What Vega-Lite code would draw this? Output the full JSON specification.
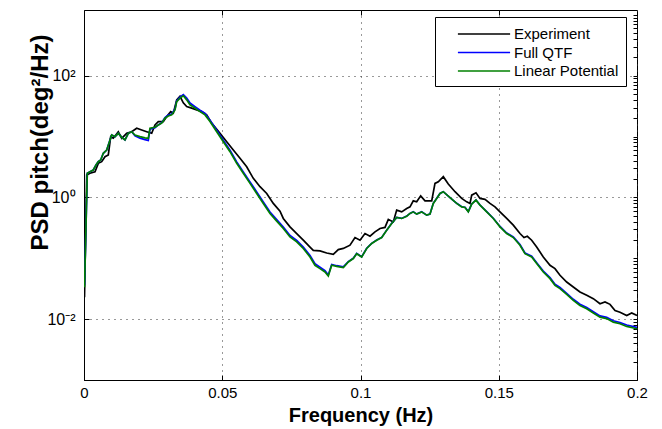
{
"$schema": "https://vega.github.io/schema/vega-lite/v6.json",
"width": 553, "height": 370,
"autosize": {"type": "none"},
"padding": {"left": 84, "top": 10, "right": 25, "bottom": 49},
"background": "white",
"config": {"view": {"stroke": "black", "strokeWidth": 1}, "font": "Liberation Sans"},
"data": {"values": [
{"s":"Experiment","f":0.00018,"v":0.0228},{"s":"Experiment","f":0.00098,"v":2.33},{"s":"Experiment","f":0.00217,"v":2.49},{"s":"Experiment","f":0.00398,"v":2.64},{"s":"Experiment","f":0.00517,"v":3.63},{"s":"Experiment","f":0.0064,"v":3.86},{"s":"Experiment","f":0.0076,"v":4.67},{"s":"Experiment","f":0.00879,"v":4.98},{"s":"Experiment","f":0.00966,"v":9.96},{"s":"Experiment","f":0.0106,"v":9.38},{"s":"Experiment","f":0.0124,"v":12.0},{"s":"Experiment","f":0.01363,"v":9.38},{"s":"Experiment","f":0.01544,"v":11.3},{"s":"Experiment","f":0.01725,"v":12.0},{"s":"Experiment","f":0.01906,"v":13.7},{"s":"Experiment","f":0.02087,"v":12.8},{"s":"Experiment","f":0.02268,"v":12.0},{"s":"Experiment","f":0.02448,"v":11.3},{"s":"Experiment","f":0.02568,"v":15.5},{"s":"Experiment","f":0.02687,"v":17.6},{"s":"Experiment","f":0.02868,"v":17.6},{"s":"Experiment","f":0.02991,"v":21.3},{"s":"Experiment","f":0.03136,"v":25.7},{"s":"Experiment","f":0.0323,"v":24.2},{"s":"Experiment","f":0.03353,"v":40.1},{"s":"Experiment","f":0.03472,"v":45.8},{"s":"Experiment","f":0.03591,"v":35.8},{"s":"Experiment","f":0.03714,"v":31.1},{"s":"Experiment","f":0.03895,"v":29.3},{"s":"Experiment","f":0.04076,"v":27.4},{"s":"Experiment","f":0.04257,"v":25.7},{"s":"Experiment","f":0.04437,"v":22.7},{"s":"Experiment","f":0.04618,"v":16.6},{"s":"Experiment","f":0.04919,"v":11.3},{"s":"Experiment","f":0.05161,"v":8.24},{"s":"Experiment","f":0.054,"v":6.01},{"s":"Experiment","f":0.05642,"v":4.39},{"s":"Experiment","f":0.05884,"v":3.19},{"s":"Experiment","f":0.06123,"v":2.06},{"s":"Experiment","f":0.06365,"v":1.5},{"s":"Experiment","f":0.06608,"v":1.16},{"s":"Experiment","f":0.06846,"v":0.797},{"s":"Experiment","f":0.07089,"v":0.595},{"s":"Experiment","f":0.07208,"v":0.451},{"s":"Experiment","f":0.0745,"v":0.328},{"s":"Experiment","f":0.07693,"v":0.255},{"s":"Experiment","f":0.07931,"v":0.198},{"s":"Experiment","f":0.08174,"v":0.153},{"s":"Experiment","f":0.08293,"v":0.135},{"s":"Experiment","f":0.08535,"v":0.132},{"s":"Experiment","f":0.08778,"v":0.122},{"s":"Experiment","f":0.09016,"v":0.116},{"s":"Experiment","f":0.09197,"v":0.139},{"s":"Experiment","f":0.09378,"v":0.145},{"s":"Experiment","f":0.0962,"v":0.164},{"s":"Experiment","f":0.09801,"v":0.219},{"s":"Experiment","f":0.09982,"v":0.198},{"s":"Experiment","f":0.10163,"v":0.255},{"s":"Experiment","f":0.10344,"v":0.23},{"s":"Experiment","f":0.10524,"v":0.271},{"s":"Experiment","f":0.10705,"v":0.309},{"s":"Experiment","f":0.10886,"v":0.321},{"s":"Experiment","f":0.11006,"v":0.434},{"s":"Experiment","f":0.11186,"v":0.396},{"s":"Experiment","f":0.11309,"v":0.618},{"s":"Experiment","f":0.1149,"v":0.579},{"s":"Experiment","f":0.11671,"v":0.659},{"s":"Experiment","f":0.1179,"v":0.7},{"s":"Experiment","f":0.11909,"v":0.879},{"s":"Experiment","f":0.12032,"v":0.846},{"s":"Experiment","f":0.12177,"v":1.06},{"s":"Experiment","f":0.12333,"v":0.879},{"s":"Experiment","f":0.12575,"v":0.879},{"s":"Experiment","f":0.12694,"v":1.7},{"s":"Experiment","f":0.12814,"v":1.81},{"s":"Experiment","f":0.12995,"v":2.19},{"s":"Experiment","f":0.13175,"v":1.66},{"s":"Experiment","f":0.13418,"v":1.24},{"s":"Experiment","f":0.1366,"v":0.963},{"s":"Experiment","f":0.13841,"v":0.846},{"s":"Experiment","f":0.1396,"v":0.797},{"s":"Experiment","f":0.14022,"v":1.09},{"s":"Experiment","f":0.14177,"v":1.19},{"s":"Experiment","f":0.14322,"v":0.963},{"s":"Experiment","f":0.14502,"v":0.927},{"s":"Experiment","f":0.14683,"v":0.797},{"s":"Experiment","f":0.14864,"v":0.7},{"s":"Experiment","f":0.15045,"v":0.579},{"s":"Experiment","f":0.15287,"v":0.451},{"s":"Experiment","f":0.15526,"v":0.35},{"s":"Experiment","f":0.15768,"v":0.255},{"s":"Experiment","f":0.15913,"v":0.219},{"s":"Experiment","f":0.16033,"v":0.23},{"s":"Experiment","f":0.16191,"v":0.198},{"s":"Experiment","f":0.16372,"v":0.153},{"s":"Experiment","f":0.16611,"v":0.105},{"s":"Experiment","f":0.16853,"v":0.0767},{"s":"Experiment","f":0.17034,"v":0.0676},{"s":"Experiment","f":0.17215,"v":0.0525},{"s":"Experiment","f":0.17457,"v":0.0407},{"s":"Experiment","f":0.17696,"v":0.0337},{"s":"Experiment","f":0.17938,"v":0.0279},{"s":"Experiment","f":0.18181,"v":0.0246},{"s":"Experiment","f":0.1842,"v":0.0217},{"s":"Experiment","f":0.18662,"v":0.0179},{"s":"Experiment","f":0.18843,"v":0.0191},{"s":"Experiment","f":0.19024,"v":0.0175},{"s":"Experiment","f":0.19205,"v":0.0139},{"s":"Experiment","f":0.19385,"v":0.013},{"s":"Experiment","f":0.19628,"v":0.0115},{"s":"Experiment","f":0.19808,"v":0.0126},{"s":"Experiment","f":0.2,"v":0.0115},
{"s":"Full QTF","f":0.00018,"v":0.036},{"s":"Full QTF","f":0.00119,"v":2.49},{"s":"Full QTF","f":0.00217,"v":2.64},{"s":"Full QTF","f":0.00336,"v":2.82},{"s":"Full QTF","f":0.00434,"v":3.41},{"s":"Full QTF","f":0.00517,"v":3.86},{"s":"Full QTF","f":0.00604,"v":4.12},{"s":"Full QTF","f":0.00698,"v":5.31},{"s":"Full QTF","f":0.00821,"v":6.01},{"s":"Full QTF","f":0.0094,"v":8.79},{"s":"Full QTF","f":0.01002,"v":10.6},{"s":"Full QTF","f":0.01121,"v":9.96},{"s":"Full QTF","f":0.0124,"v":11.3},{"s":"Full QTF","f":0.01363,"v":9.73},{"s":"Full QTF","f":0.01483,"v":8.79},{"s":"Full QTF","f":0.01602,"v":11.3},{"s":"Full QTF","f":0.01725,"v":12.0},{"s":"Full QTF","f":0.01844,"v":10.3},{"s":"Full QTF","f":0.02025,"v":9.4},{"s":"Full QTF","f":0.02206,"v":8.9},{"s":"Full QTF","f":0.02325,"v":8.6},{"s":"Full QTF","f":0.02387,"v":13.2},{"s":"Full QTF","f":0.02568,"v":14.0},{"s":"Full QTF","f":0.02687,"v":15.5},{"s":"Full QTF","f":0.0281,"v":16.9},{"s":"Full QTF","f":0.02929,"v":20.5},{"s":"Full QTF","f":0.03049,"v":22.5},{"s":"Full QTF","f":0.03172,"v":23.5},{"s":"Full QTF","f":0.03291,"v":28.5},{"s":"Full QTF","f":0.03353,"v":38.5},{"s":"Full QTF","f":0.03472,"v":44.5},{"s":"Full QTF","f":0.03591,"v":49.0},{"s":"Full QTF","f":0.03714,"v":43.0},{"s":"Full QTF","f":0.03834,"v":35.5},{"s":"Full QTF","f":0.04014,"v":31.0},{"s":"Full QTF","f":0.04195,"v":27.0},{"s":"Full QTF","f":0.04376,"v":24.0},{"s":"Full QTF","f":0.04557,"v":18.6},{"s":"Full QTF","f":0.04799,"v":12.7},{"s":"Full QTF","f":0.05038,"v":8.7},{"s":"Full QTF","f":0.0528,"v":5.97},{"s":"Full QTF","f":0.05523,"v":3.84},{"s":"Full QTF","f":0.05761,"v":2.63},{"s":"Full QTF","f":0.06004,"v":1.8},{"s":"Full QTF","f":0.06246,"v":1.23},{"s":"Full QTF","f":0.06485,"v":0.843},{"s":"Full QTF","f":0.06727,"v":0.577},{"s":"Full QTF","f":0.06969,"v":0.431},{"s":"Full QTF","f":0.07208,"v":0.327},{"s":"Full QTF","f":0.0745,"v":0.237},{"s":"Full QTF","f":0.07693,"v":0.197},{"s":"Full QTF","f":0.07931,"v":0.153},{"s":"Full QTF","f":0.08174,"v":0.111},{"s":"Full QTF","f":0.08354,"v":0.0811},{"s":"Full QTF","f":0.08535,"v":0.0715},{"s":"Full QTF","f":0.08716,"v":0.0625},{"s":"Full QTF","f":0.08835,"v":0.053},{"s":"Full QTF","f":0.08958,"v":0.079},{"s":"Full QTF","f":0.09139,"v":0.0755},{"s":"Full QTF","f":0.09378,"v":0.072},{"s":"Full QTF","f":0.09559,"v":0.088},{"s":"Full QTF","f":0.09739,"v":0.1},{"s":"Full QTF","f":0.09862,"v":0.12},{"s":"Full QTF","f":0.10043,"v":0.106},{"s":"Full QTF","f":0.10224,"v":0.146},{"s":"Full QTF","f":0.10405,"v":0.176},{"s":"Full QTF","f":0.10586,"v":0.199},{"s":"Full QTF","f":0.10767,"v":0.22},{"s":"Full QTF","f":0.10947,"v":0.29},{"s":"Full QTF","f":0.11128,"v":0.375},{"s":"Full QTF","f":0.11309,"v":0.47},{"s":"Full QTF","f":0.1149,"v":0.452},{"s":"Full QTF","f":0.11671,"v":0.493},{"s":"Full QTF","f":0.1179,"v":0.546},{"s":"Full QTF","f":0.11909,"v":0.58},{"s":"Full QTF","f":0.12032,"v":0.532},{"s":"Full QTF","f":0.12213,"v":0.58},{"s":"Full QTF","f":0.12394,"v":0.512},{"s":"Full QTF","f":0.12513,"v":0.532},{"s":"Full QTF","f":0.12633,"v":0.8},{"s":"Full QTF","f":0.12756,"v":0.965},{"s":"Full QTF","f":0.12875,"v":1.16},{"s":"Full QTF","f":0.12995,"v":1.24},{"s":"Full QTF","f":0.13237,"v":0.995},{"s":"Full QTF","f":0.13479,"v":0.8},{"s":"Full QTF","f":0.1366,"v":0.703},{"s":"Full QTF","f":0.13779,"v":0.69},{"s":"Full QTF","f":0.13899,"v":0.585},{"s":"Full QTF","f":0.14022,"v":0.78},{"s":"Full QTF","f":0.14177,"v":0.91},{"s":"Full QTF","f":0.14322,"v":0.75},{"s":"Full QTF","f":0.14564,"v":0.582},{"s":"Full QTF","f":0.14803,"v":0.455},{"s":"Full QTF","f":0.15045,"v":0.333},{"s":"Full QTF","f":0.15287,"v":0.26},{"s":"Full QTF","f":0.15526,"v":0.224},{"s":"Full QTF","f":0.15768,"v":0.168},{"s":"Full QTF","f":0.15949,"v":0.122},{"s":"Full QTF","f":0.16191,"v":0.108},{"s":"Full QTF","f":0.16372,"v":0.0845},{"s":"Full QTF","f":0.16611,"v":0.0615},{"s":"Full QTF","f":0.16853,"v":0.048},{"s":"Full QTF","f":0.17034,"v":0.0373},{"s":"Full QTF","f":0.17215,"v":0.0331},{"s":"Full QTF","f":0.17457,"v":0.0266},{"s":"Full QTF","f":0.17696,"v":0.0212},{"s":"Full QTF","f":0.17938,"v":0.0176},{"s":"Full QTF","f":0.18181,"v":0.0155},{"s":"Full QTF","f":0.1842,"v":0.0132},{"s":"Full QTF","f":0.18662,"v":0.0113},{"s":"Full QTF","f":0.18904,"v":0.0107},{"s":"Full QTF","f":0.19143,"v":0.0094},{"s":"Full QTF","f":0.19385,"v":0.0088},{"s":"Full QTF","f":0.19628,"v":0.008},{"s":"Full QTF","f":0.2,"v":0.0073},
{"s":"Linear Potential","f":0.00018,"v":0.0333},{"s":"Linear Potential","f":0.00119,"v":2.49},{"s":"Linear Potential","f":0.00217,"v":2.64},{"s":"Linear Potential","f":0.00336,"v":2.82},{"s":"Linear Potential","f":0.00434,"v":3.41},{"s":"Linear Potential","f":0.00517,"v":3.86},{"s":"Linear Potential","f":0.00604,"v":4.12},{"s":"Linear Potential","f":0.00698,"v":5.31},{"s":"Linear Potential","f":0.00821,"v":6.01},{"s":"Linear Potential","f":0.0094,"v":8.79},{"s":"Linear Potential","f":0.01002,"v":10.6},{"s":"Linear Potential","f":0.01121,"v":9.96},{"s":"Linear Potential","f":0.0124,"v":11.3},{"s":"Linear Potential","f":0.01363,"v":9.73},{"s":"Linear Potential","f":0.01483,"v":8.79},{"s":"Linear Potential","f":0.01602,"v":11.3},{"s":"Linear Potential","f":0.01725,"v":12.0},{"s":"Linear Potential","f":0.01844,"v":10.6},{"s":"Linear Potential","f":0.02025,"v":9.96},{"s":"Linear Potential","f":0.02206,"v":9.5},{"s":"Linear Potential","f":0.02325,"v":9.38},{"s":"Linear Potential","f":0.02387,"v":13.7},{"s":"Linear Potential","f":0.02568,"v":14.2},{"s":"Linear Potential","f":0.02687,"v":15.5},{"s":"Linear Potential","f":0.0281,"v":16.6},{"s":"Linear Potential","f":0.02929,"v":20.0},{"s":"Linear Potential","f":0.03049,"v":21.8},{"s":"Linear Potential","f":0.03172,"v":22.7},{"s":"Linear Potential","f":0.03291,"v":27.4},{"s":"Linear Potential","f":0.03353,"v":37.6},{"s":"Linear Potential","f":0.03472,"v":42.8},{"s":"Linear Potential","f":0.03591,"v":46.7},{"s":"Linear Potential","f":0.03714,"v":40.1},{"s":"Linear Potential","f":0.03834,"v":33.2},{"s":"Linear Potential","f":0.04014,"v":29.3},{"s":"Linear Potential","f":0.04195,"v":25.7},{"s":"Linear Potential","f":0.04376,"v":22.7},{"s":"Linear Potential","f":0.04557,"v":17.6},{"s":"Linear Potential","f":0.04799,"v":12.0},{"s":"Linear Potential","f":0.05038,"v":8.24},{"s":"Linear Potential","f":0.0528,"v":5.64},{"s":"Linear Potential","f":0.05523,"v":3.63},{"s":"Linear Potential","f":0.05761,"v":2.49},{"s":"Linear Potential","f":0.06004,"v":1.7},{"s":"Linear Potential","f":0.06246,"v":1.16},{"s":"Linear Potential","f":0.06485,"v":0.797},{"s":"Linear Potential","f":0.06727,"v":0.545},{"s":"Linear Potential","f":0.06969,"v":0.407},{"s":"Linear Potential","f":0.07208,"v":0.309},{"s":"Linear Potential","f":0.0745,"v":0.224},{"s":"Linear Potential","f":0.07693,"v":0.186},{"s":"Linear Potential","f":0.07931,"v":0.145},{"s":"Linear Potential","f":0.08174,"v":0.105},{"s":"Linear Potential","f":0.08354,"v":0.0767},{"s":"Linear Potential","f":0.08535,"v":0.0676},{"s":"Linear Potential","f":0.08716,"v":0.0595},{"s":"Linear Potential","f":0.08835,"v":0.0511},{"s":"Linear Potential","f":0.08958,"v":0.0767},{"s":"Linear Potential","f":0.09139,"v":0.0738},{"s":"Linear Potential","f":0.09378,"v":0.0703},{"s":"Linear Potential","f":0.09559,"v":0.0869},{"s":"Linear Potential","f":0.09739,"v":0.0989},{"s":"Linear Potential","f":0.09862,"v":0.119},{"s":"Linear Potential","f":0.10043,"v":0.105},{"s":"Linear Potential","f":0.10224,"v":0.145},{"s":"Linear Potential","f":0.10405,"v":0.175},{"s":"Linear Potential","f":0.10586,"v":0.198},{"s":"Linear Potential","f":0.10767,"v":0.219},{"s":"Linear Potential","f":0.10947,"v":0.289},{"s":"Linear Potential","f":0.11128,"v":0.373},{"s":"Linear Potential","f":0.11309,"v":0.469},{"s":"Linear Potential","f":0.1149,"v":0.451},{"s":"Linear Potential","f":0.11671,"v":0.492},{"s":"Linear Potential","f":0.1179,"v":0.545},{"s":"Linear Potential","f":0.11909,"v":0.579},{"s":"Linear Potential","f":0.12032,"v":0.531},{"s":"Linear Potential","f":0.12213,"v":0.579},{"s":"Linear Potential","f":0.12394,"v":0.511},{"s":"Linear Potential","f":0.12513,"v":0.531},{"s":"Linear Potential","f":0.12633,"v":0.797},{"s":"Linear Potential","f":0.12756,"v":0.963},{"s":"Linear Potential","f":0.12875,"v":1.16},{"s":"Linear Potential","f":0.12995,"v":1.24},{"s":"Linear Potential","f":0.13237,"v":0.992},{"s":"Linear Potential","f":0.13479,"v":0.797},{"s":"Linear Potential","f":0.1366,"v":0.7},{"s":"Linear Potential","f":0.13779,"v":0.684},{"s":"Linear Potential","f":0.13899,"v":0.579},{"s":"Linear Potential","f":0.14022,"v":0.776},{"s":"Linear Potential","f":0.14177,"v":0.903},{"s":"Linear Potential","f":0.14322,"v":0.747},{"s":"Linear Potential","f":0.14564,"v":0.579},{"s":"Linear Potential","f":0.14803,"v":0.451},{"s":"Linear Potential","f":0.15045,"v":0.328},{"s":"Linear Potential","f":0.15287,"v":0.255},{"s":"Linear Potential","f":0.15526,"v":0.219},{"s":"Linear Potential","f":0.15768,"v":0.164},{"s":"Linear Potential","f":0.15949,"v":0.119},{"s":"Linear Potential","f":0.16191,"v":0.105},{"s":"Linear Potential","f":0.16372,"v":0.0818},{"s":"Linear Potential","f":0.16611,"v":0.0595},{"s":"Linear Potential","f":0.16853,"v":0.0463},{"s":"Linear Potential","f":0.17034,"v":0.0359},{"s":"Linear Potential","f":0.17215,"v":0.0317},{"s":"Linear Potential","f":0.17457,"v":0.0255},{"s":"Linear Potential","f":0.17696,"v":0.0203},{"s":"Linear Potential","f":0.17938,"v":0.0168},{"s":"Linear Potential","f":0.18181,"v":0.0148},{"s":"Linear Potential","f":0.1842,"v":0.0126},{"s":"Linear Potential","f":0.18662,"v":0.0108},{"s":"Linear Potential","f":0.18904,"v":0.0102},{"s":"Linear Potential","f":0.19143,"v":0.00893},{"s":"Linear Potential","f":0.19385,"v":0.0084},{"s":"Linear Potential","f":0.19628,"v":0.00759},{"s":"Linear Potential","f":0.2,"v":0.00695}
]},
"layer": [
{
"mark": {"type": "line", "strokeWidth": 1.7, "clip": true},
"encoding": {
"x": {"field": "f", "type": "quantitative", "scale": {"domain": [0, 0.2], "nice": false, "zero": false},
 "axis": {"title": "Frequency (Hz)", "titleFontSize": 20, "titleFontWeight": "bold", "titleColor": "black", "titlePadding": 5,
  "values": [0, 0.05, 0.1, 0.15, 0.2], "labelExpr": "format(datum.value, '~g')", "labelFontSize": 15, "labelColor": "black", "labelPadding": 10, "labelFlush": false,
  "tickSize": -5, "tickColor": "black", "domainColor": "black",
  "grid": true, "gridDash": [1, 5], "gridColor": "#333333", "gridWidth": 1}},
"y": {"field": "v", "type": "quantitative", "scale": {"type": "log", "domain": [0.001, 1200], "nice": false},
 "axis": {"title": "PSD pitch(deg²/Hz)", "titleFontSize": 24, "titleFontWeight": "bold", "titleColor": "black",
  "titleX": -37, "titleY": 132, "titleAngle": -90, "titleAlign": "center", "titleBaseline": "alphabetic",
  "values": [0.01, 1, 100], "labelExpr": "datum.value == 100 ? '10²' : (datum.value == 1 ? '10⁰' : '10⁻²')", "labelFontSize": 16, "labelColor": "black", "labelPadding": 14,
  "tickSize": -5, "tickColor": "black", "domainColor": "black",
  "grid": true, "gridDash": [1, 5], "gridColor": "#333333", "gridWidth": 1}},
"color": {"field": "s", "type": "nominal",
 "scale": {"domain": ["Experiment", "Full QTF", "Linear Potential"], "range": ["#000000", "#0000ff", "#008000"]},
 "legend": {"title": null, "orient": "none", "legendX": 351, "legendY": 7, "symbolType": "M-2.9,0H2.9", "symbolSize": 324, "symbolStrokeWidth": 1.7, "symbolOffset": 32,
  "labelFontSize": 15, "labelColor": "black", "labelOffset": 20, "strokeColor": "black", "fillColor": "white", "padding": 7, "rowPadding": 0.5}}
}
},
{
"mark": {"type": "point", "opacity": 0},
"encoding": {
"x": {"field": "f", "type": "quantitative", "scale": {"domain": [0, 0.2], "nice": false, "zero": false},
 "axis": {"orient": "top", "title": null, "labels": false, "values": [0.05, 0.1, 0.15], "tickSize": -5, "tickColor": "black", "domain": false, "grid": false}},
"y": {"field": "v", "type": "quantitative", "scale": {"type": "log", "domain": [0.001, 1200], "nice": false},
 "axis": {"orient": "right", "title": null, "labels": false, "values": [0.002,0.003,0.004,0.005,0.006,0.007,0.008,0.009,0.01,0.02,0.03,0.04,0.05,0.06,0.07,0.08,0.09,0.1,0.2,0.3,0.4,0.5,0.6,0.7,0.8,0.9,1,2,3,4,5,6,7,8,9,10,20,30,40,50,60,70,80,90,100,200,300,400,500,600,700,800,900,1000], "tickSize": -4, "tickColor": "black", "domain": false, "grid": false}}
}
}
],
"resolve": {"axis": {"x": "independent", "y": "independent"}}
}
